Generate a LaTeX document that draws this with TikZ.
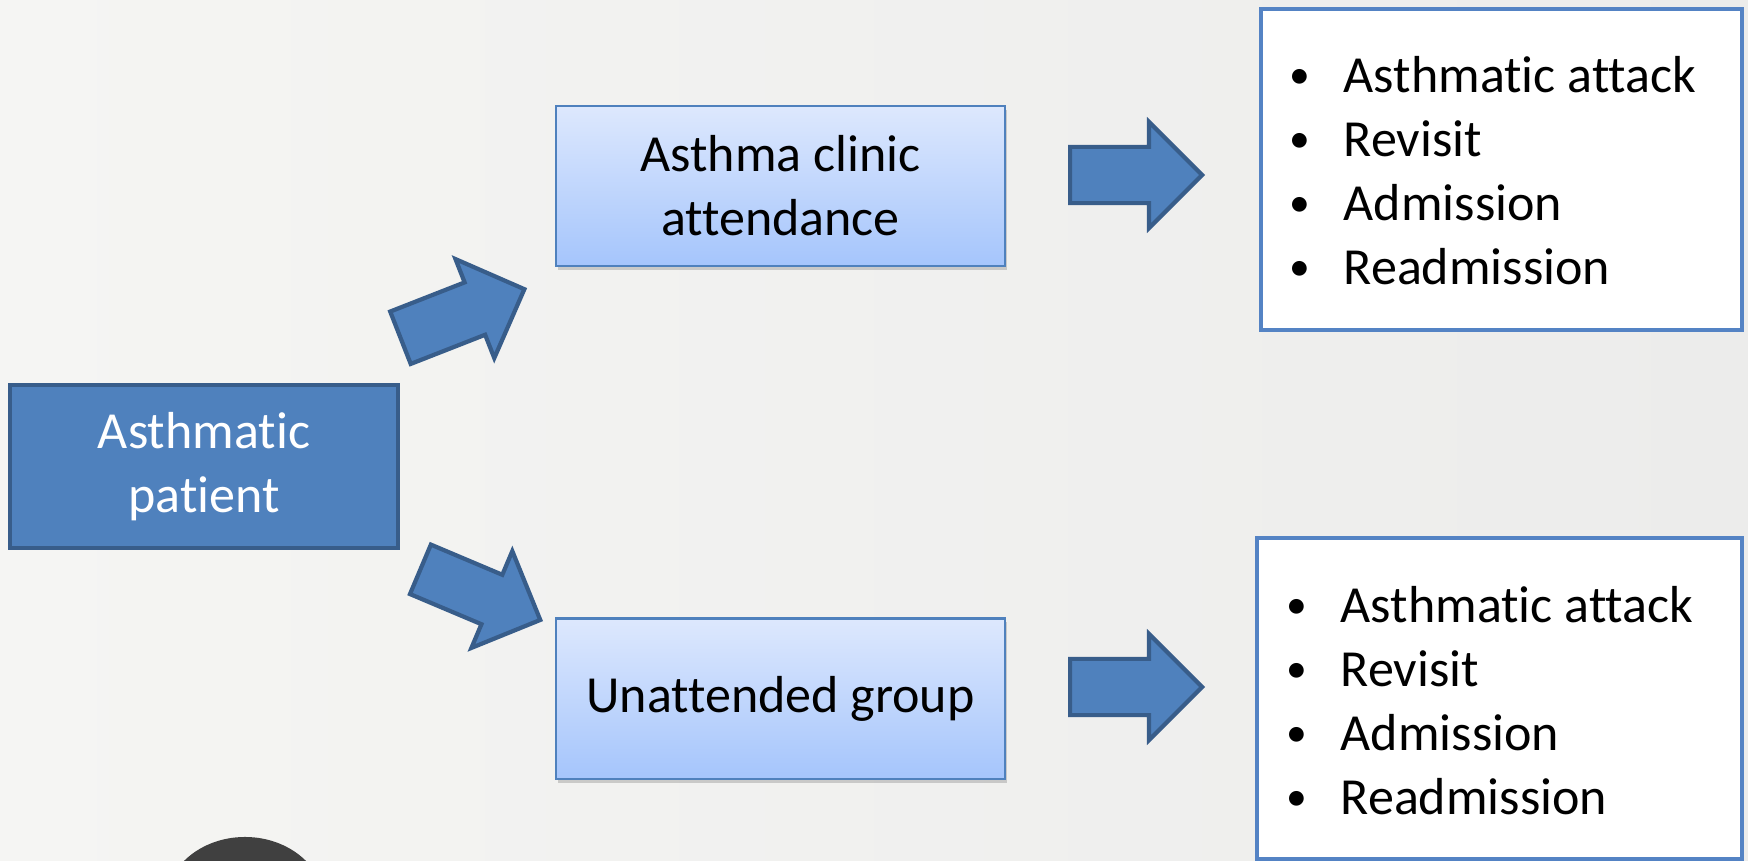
\documentclass[tikz,border=0pt]{standalone}
\usepackage{fontspec}
\setmainfont{Carlito}[Ligatures={NoCommon}]
\usetikzlibrary{shapes.arrows,shadows}

\definecolor{patientblue}{RGB}{79,129,189}
\definecolor{patientedge}{RGB}{56,93,138}
\definecolor{gradtop}{RGB}{221,232,253}
\definecolor{gradbottom}{RGB}{165,197,252}
\definecolor{listedge}{RGB}{84,131,196}
\definecolor{bgleft}{RGB}{245,245,243}
\definecolor{bgright}{RGB}{236,236,235}

\newcommand{\itembullet}{\makebox[0.54cm][l]{\raisebox{0.06em}{\scalebox{0.8}{•}}}}

\begin{document}
\begin{tikzpicture}[x=0.01cm, y=-0.01cm,
    every node/.style={font=\fontsize{14.8}{18.2}\selectfont},
    patientbox/.style={fill=patientblue, draw=patientedge, line width=1.3pt, text=white, align=center, minimum width=3.88cm, minimum height=1.63cm},
    groupbox/.style={top color=gradtop, bottom color=gradbottom, draw=patientblue, line width=0.6pt, align=center, minimum width=4.49cm, minimum height=1.6cm, drop shadow={shadow xshift=0.02cm, shadow yshift=-0.04cm, opacity=0.35}},
    listbox/.style={fill=white, draw=listedge, line width=1.2pt, minimum width=4.81cm, minimum height=3.21cm},
    blockarrow/.style={single arrow, fill=patientblue, draw=patientedge, line width=1.2pt, inner sep=0.26cm, minimum width=1.05cm, anchor=tail}]
    \useasboundingbox (0,0) rectangle (1748,860);
    \shade[left color=bgleft, right color=bgright] (0,0) rectangle (1748,860);
    \begin{scope}
        \clip (0,0) rectangle (1748,860);
        \fill[black!75] (245,905) ellipse [x radius=0.8cm, y radius=0.68cm];
    \end{scope}

    \node[patientbox] (patient) at (204, 466.5) {Asthmatic\\patient};
    \node[groupbox] (clinic) at (780.5, 186) {Asthma clinic\\attendance};
    \node[groupbox] (unattended) at (780.5, 698.5) {Unattended group};
    \node[listbox] (clinicout) at (1501.5, 169.5) {};
    \node[listbox, minimum width=4.85cm] (unattendedout) at (1499.5, 698.5) {};

    % outcome lists
    \node[anchor=base west, inner sep=0] (cliniclist) at (1289, 92)
        {\begin{tabular}[t]{@{}l@{}}
            \itembullet Asthmatic attack\\
            \itembullet Revisit\\
            \itembullet Admission\\
            \itembullet Readmission
        \end{tabular}};
    \node[anchor=base west, inner sep=0] (unattendedlist) at (1286, 622)
        {\begin{tabular}[t]{@{}l@{}}
            \itembullet Asthmatic attack\\
            \itembullet Revisit\\
            \itembullet Admission\\
            \itembullet Readmission
        \end{tabular}};

    % block arrows
    \node[blockarrow, rotate=21.4, minimum height=1.33cm] (toclinic) at (398.5, 338.5) {};
    \node[blockarrow, rotate=-22.9, minimum height=1.30cm, inner sep=0.24cm] (tounattended) at (418.5, 568.5) {};
    \node[blockarrow, minimum height=1.32cm] (clinicarrow) at (1068, 175) {};
    \node[blockarrow, minimum height=1.32cm] (unattendedarrow) at (1068, 687) {};
\end{tikzpicture}
\end{document}
